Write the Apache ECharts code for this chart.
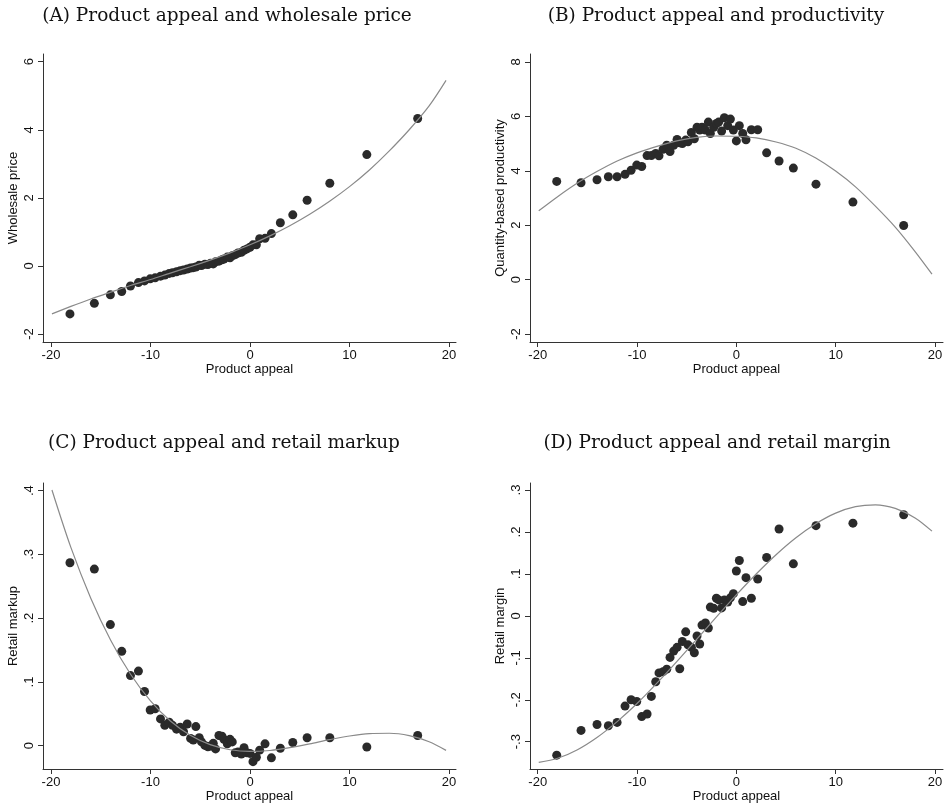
<!DOCTYPE html>
<html>
<head>
<meta charset="utf-8">
<script src="https://cdn.jsdelivr.net/npm/echarts@6/dist/echarts.min.js"></script>
<style>
  html, body { margin: 0; padding: 0; background: #fff; }
  #main { width: 949px; height: 807px; }
</style>
</head>
<body>
<div id="main"></div>
<script>
// binned product appeal (shared x for all four panels)
var appeal = [-18.09, -15.64, -14.03, -12.89, -12.01, -11.21, -10.60, -10.03, -9.53, -8.99,
  -8.56, -8.12, -7.79, -7.38, -7.01, -6.68, -6.31, -5.97, -5.70, -5.44,
  -5.10, -4.87, -4.53, -4.23, -3.96, -3.69, -3.46, -3.12, -2.82, -2.62,
  -2.28, -2.01, -1.78, -1.48, -1.21, -0.87, -0.60, -0.30, 0.00, 0.30,
  0.64, 0.97, 1.51, 2.15, 3.05, 4.30, 5.74, 8.02, 11.74, 16.85];

var wholesale = [-1.41, -1.10, -0.85, -0.75, -0.59, -0.49, -0.44, -0.38, -0.35, -0.30,
  -0.27, -0.22, -0.20, -0.17, -0.14, -0.12, -0.09, -0.06, -0.05, -0.03,
  0.02, 0.01, 0.05, 0.04, 0.08, 0.06, 0.12, 0.14, 0.18, 0.20,
  0.26, 0.24, 0.30, 0.33, 0.38, 0.40, 0.46, 0.50, 0.55, 0.62,
  0.62, 0.80, 0.81, 0.95, 1.27, 1.50, 1.93, 2.43, 3.27, 4.33];

var productivity = [3.61, 3.56, 3.67, 3.78, 3.78, 3.87, 4.02, 4.21, 4.16, 4.56,
  4.56, 4.64, 4.55, 4.79, 4.94, 4.71, 4.94, 5.15, 5.03, 5.00,
  5.13, 5.07, 5.41, 5.18, 5.60, 5.50, 5.60, 5.50, 5.79, 5.37,
  5.60, 5.74, 5.79, 5.46, 5.95, 5.66, 5.90, 5.50, 5.10, 5.66,
  5.37, 5.14, 5.51, 5.51, 4.66, 4.36, 4.10, 3.51, 2.85, 1.99];

var markup = [0.287, 0.277, 0.190, 0.148, 0.110, 0.117, 0.085, 0.056, 0.058, 0.042,
  0.032, 0.037, 0.032, 0.026, 0.029, 0.022, 0.034, 0.0115, 0.009, 0.030,
  0.0125, 0.006, 0.0005, -0.0016, -0.0005, 0.0037, -0.005, 0.016, 0.015, 0.010,
  0.003, 0.010, 0.006, -0.011, -0.010, -0.013, -0.003, -0.011, -0.012, -0.025,
  -0.018, -0.007, 0.003, -0.019, -0.004, 0.005, 0.0125, 0.0125, -0.002, 0.016];

var margin = [-0.332, -0.273, -0.259, -0.262, -0.254, -0.215, -0.200, -0.204, -0.240, -0.234,
  -0.192, -0.157, -0.136, -0.133, -0.127, -0.099, -0.084, -0.075, -0.126, -0.061,
  -0.038, -0.069, -0.075, -0.088, -0.048, -0.067, -0.022, -0.017, -0.029, 0.021,
  0.018, 0.042, 0.038, 0.019, 0.038, 0.033, 0.043, 0.053, 0.107, 0.132,
  0.034, 0.091, 0.042, 0.088, 0.139, 0.207, 0.124, 0.215, 0.221, 0.241];

// fitted curves
var fitX = [-19.9, -18, -16, -14, -12, -10, -8, -6, -4, -2, 0, 2, 4, 6, 8, 10, 12, 14, 16, 18, 19.7];
var fitA = [-1.41, -1.19, -0.97, -0.77, -0.576, -0.40, -0.21, -0.025, 0.172, 0.385, 0.62,
  0.883, 1.18, 1.517, 1.90, 2.33, 2.82, 3.38, 4.00, 4.70, 5.45];
var fitB = [2.53, 3.05, 3.55, 3.98, 4.36, 4.66, 4.90, 5.10, 5.23, 5.28, 5.27,
  5.21, 5.06, 4.83, 4.47, 3.99, 3.41, 2.70, 1.93, 1.03, 0.20];
var fitC = [0.401, 0.311, 0.2314, 0.1654, 0.1121, 0.0703, 0.0388, 0.0164, 0.0017, -0.0063, -0.009,
  -0.0075, -0.0031, 0.0029, 0.0095, 0.0153, 0.0191, 0.0196, 0.0158, 0.0062, -0.0073];
var fitD = [-0.349, -0.3395, -0.3189, -0.2892, -0.252, -0.209, -0.1605, -0.1091, -0.0559, -0.0024, 0.05,
  0.0999, 0.1458, 0.1862, 0.2197, 0.245, 0.2604, 0.2646, 0.2561, 0.2335, 0.202];

// tick labels
var xTicks = [-20, -10, 0, 10, 20];
var yTicksA = [-2, 0, 2, 4, 6];
var yTicksB = [-2, 0, 2, 4, 6, 8];
var yTicksC = [0, 0.1, 0.2, 0.3, 0.4];
var yTicksD = [-0.3, -0.2, -0.1, 0, 0.1, 0.2, 0.3];

var titles = ['(A) Product appeal and wholesale price', '(B) Product appeal and productivity',
  '(C) Product appeal and retail markup', '(D) Product appeal and retail margin'];
var yNames = ['Wholesale price', 'Quantity-based productivity', 'Retail markup', 'Retail margin'];

function zip(xs, ys) {
  return xs.map(function (x, i) { return [x, ys[i]]; });
}
function stataFmt(v) {
  if (v === 0) return '0';
  var s = String(Math.abs(v)).replace(/^0\./, '.');
  return (v < 0 ? '-' : '') + s;
}

var axisColor = '#333';
var grids = [
  { left: 43, top: 54, width: 413, height: 288 },
  { left: 530, top: 54, width: 413, height: 288 },
  { left: 43, top: 483, width: 413, height: 286 },
  { left: 530, top: 483, width: 413, height: 286 }
];
var xRange = [[-20.8, 20.7], [-20.78, 20.81], [-20.8, 20.7], [-20.78, 20.81]];
var yRange = [[-2.235, 6.226], [-2.294, 8.294], [-0.0365, 0.412], [-0.365, 0.3167]];
var yTicks = [yTicksA, yTicksB, yTicksC, yTicksD];
var scat = [wholesale, productivity, markup, margin];
var fits = [fitA, fitB, fitC, fitD];

var xAxes = [], yAxes = [], series = [], titleList = [];
var titlePos = [[227, 7], [716, 7], [224, 434], [717, 434]];

for (var i = 0; i < 4; i++) {
  titleList.push({
    text: titles[i], left: titlePos[i][0], top: titlePos[i][1], textAlign: 'center', padding: 0,
    textStyle: { fontFamily: 'DejaVu Serif', fontSize: 18.5, fontWeight: 'normal', color: '#111' }
  });
  xAxes.push({
    type: 'value', gridIndex: i, min: xRange[i][0], max: xRange[i][1],
    name: 'Product appeal', nameLocation: 'middle', nameGap: 19,
    nameTextStyle: { fontFamily: 'Liberation Sans', fontSize: 13, color: '#111' },
    axisLine: { show: true, onZero: false, lineStyle: { color: axisColor, width: 1 } },
    axisTick: { show: true, length: 5, customValues: xTicks, lineStyle: { color: axisColor } },
    axisLabel: { customValues: xTicks, margin: 7, fontFamily: 'Liberation Sans', fontSize: 13, color: '#111' },
    splitLine: { show: false }
  });
  yAxes.push({
    type: 'value', gridIndex: i, min: yRange[i][0], max: yRange[i][1],
    name: yNames[i], nameLocation: 'middle', nameGap: 23,
    nameTextStyle: { fontFamily: 'Liberation Sans', fontSize: 13, color: '#111' },
    axisLine: { show: true, onZero: false, lineStyle: { color: axisColor, width: 1 } },
    axisTick: { show: true, length: 5, customValues: yTicks[i], lineStyle: { color: axisColor } },
    axisLabel: { customValues: yTicks[i], rotate: 90, margin: 7, formatter: stataFmt,
      fontFamily: 'Liberation Sans', fontSize: 13, color: '#111' },
    splitLine: { show: false }
  });
  series.push({
    type: 'line', xAxisIndex: i, yAxisIndex: i, data: zip(fitX, fits[i]),
    smooth: 0.3, showSymbol: false, silent: true,
    lineStyle: { color: '#8a8a8a', width: 1.2 }
  });
  series.push({
    type: 'scatter', xAxisIndex: i, yAxisIndex: i, data: zip(appeal, scat[i]),
    symbolSize: 9, itemStyle: { color: '#2a2a2a', opacity: 1 }
  });
}

var chart = echarts.init(document.getElementById('main'));
chart.setOption({
  animation: false,
  backgroundColor: '#fff',
  title: titleList,
  grid: grids,
  xAxis: xAxes,
  yAxis: yAxes,
  series: series
});
</script>
</body>
</html>
